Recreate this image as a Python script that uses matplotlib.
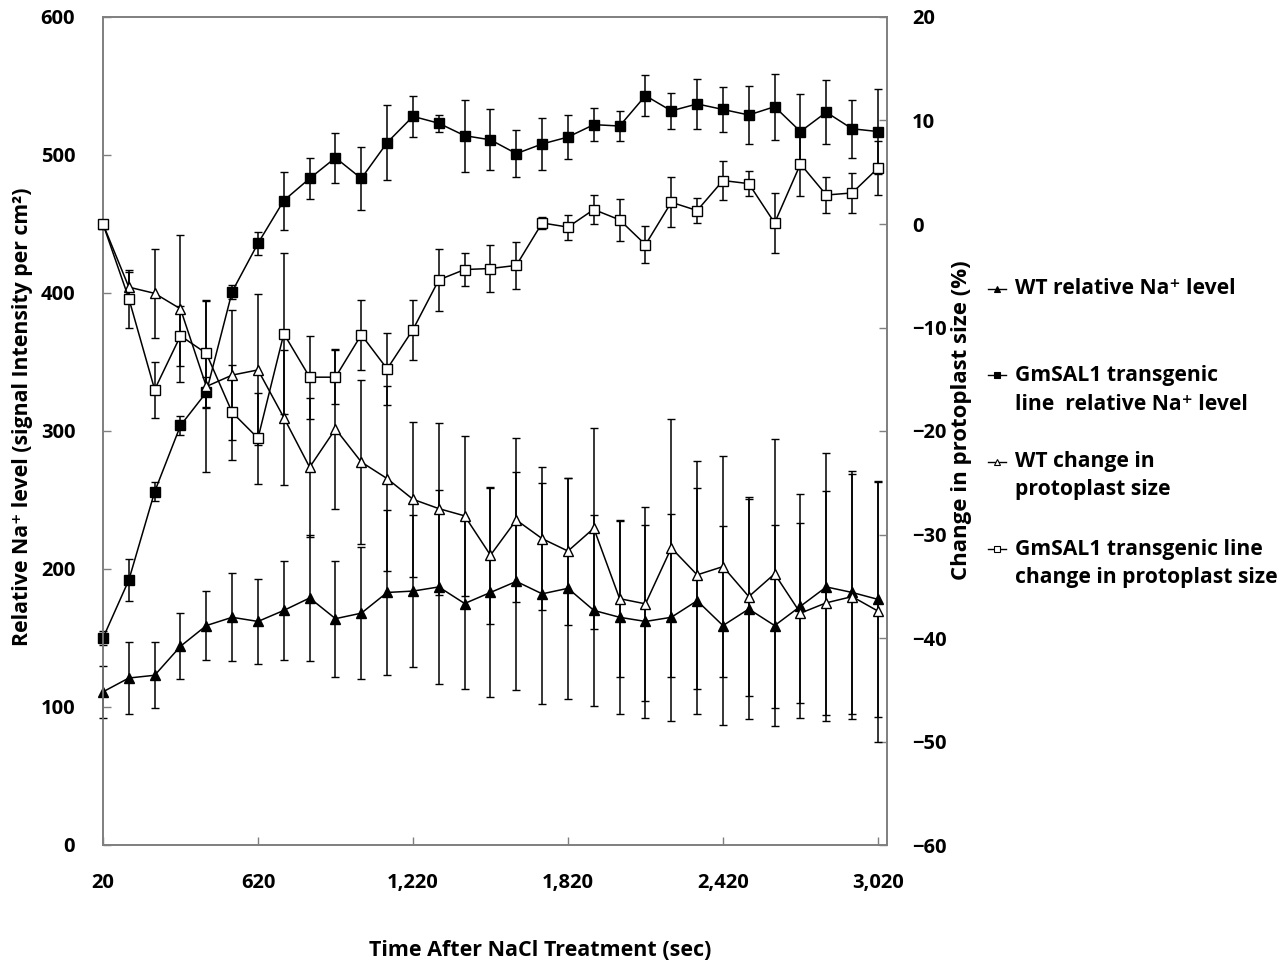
import matplotlib
matplotlib.use('Agg')
import matplotlib.pyplot as plt
from matplotlib.lines import Line2D
from matplotlib.ticker import FixedLocator, FuncFormatter

# ---------------- data ----------------
time_sec = [20, 120, 220, 320, 420, 520, 620, 720, 820, 920, 1020, 1120, 1220, 1320,
            1420, 1520, 1620, 1720, 1820, 1920, 2020, 2120, 2220, 2320, 2420, 2520,
            2620, 2720, 2820, 2920, 3020]

wt_na = [111, 121, 123, 144, 159, 165, 162, 170, 179, 164, 168, 183, 184, 187, 175, 183,
         191, 182, 186, 170, 165, 162, 165, 177, 159, 171, 159, 173, 187, 183, 178]
wt_na_err = [19, 26, 24, 24, 25, 32, 31, 36, 46, 42, 48, 60, 55, 70, 62, 76,
             79, 80, 80, 69, 70, 70, 75, 82, 72, 80, 73, 81, 97, 88, 85]

gm_na = [150, 192, 256, 304, 328, 401, 436, 467, 483, 498, 483, 509, 528, 523, 514, 511,
         501, 508, 513, 522, 521, 543, 532, 537, 533, 529, 535, 517, 531, 519, 517]
gm_na_err = [5, 15, 7, 7, 11, 5, 8.5, 21, 15, 18, 23, 27, 15, 6, 26, 22,
             17, 19, 16, 12, 11, 15, 13, 18, 16, 21, 24, 27, 23, 21, 31]

wt_chg = [0, -6.1, -6.7, -8.2, -15.7, -14.6, -14.1, -18.7, -23.5, -19.8, -23.0, -24.6,
          -26.6, -27.5, -28.2, -32.0, -28.6, -30.4, -31.6, -29.4, -36.2, -36.7, -31.3,
          -33.9, -33.1, -36.0, -33.8, -37.6, -36.6, -36.0, -37.4]
wt_chg_err = [0, 1.5, 4.3, 7.1, 8.3, 6.3, 7.3, 6.5, 6.7, 7.7, 7.9, 8.9, 7.5, 8.3, 7.7, 6.6,
              7.9, 6.9, 7.1, 9.7, 7.6, 9.4, 12.5, 11.0, 10.7, 9.6, 13.0, 8.7, 10.8, 11.8, 12.6]

gm_chg = [0, -7.2, -16.0, -10.8, -12.5, -18.2, -20.7, -10.6, -14.8, -14.8, -10.7, -14.0,
          -10.2, -5.4, -4.4, -4.3, -4.0, 0.1, -0.3, 1.4, 0.4, -2.0, 2.1, 1.3, 4.2, 3.9,
          0.1, 5.8, 2.8, 3.0, 5.4]
gm_chg_err = [0, 2.8, 2.7, 2.9, 5.2, 4.6, 4.4, 7.8, 4.0, 2.6, 3.4, 3.5, 2.9, 3.0, 1.6, 2.3,
              2.3, 0.6, 1.2, 1.4, 2.0, 1.8, 2.4, 1.2, 1.9, 1.2, 2.9, 3.1, 1.7, 1.9, 2.6]

x_ticks = [20, 620, 1220, 1820, 2420, 3020]
left_ticks = [0, 100, 200, 300, 400, 500, 600]
right_ticks = [-60, -50, -40, -30, -20, -10, 0, 10, 20]

legend_lines = [
    ["WT relative Na\u207a level"],
    ["GmSAL1 transgenic", "line  relative Na\u207a level"],
    ["WT change in", "protoplast size"],
    ["GmSAL1 transgenic line", "change in protoplast size"],
]

# ---------------- style ----------------
FAM = ['Open Sans', 'DejaVu Sans']
plt.rcParams['font.family'] = FAM
plt.rcParams['font.weight'] = 'bold'

W, H = 1287, 965
fig = plt.figure(figsize=(W / 100, H / 100), dpi=100)
L, R, T, B = 103, 887, 17, 845
ax = fig.add_axes([L / W, 1 - B / H, (R - L) / W, (B - T) / H])
ax2 = ax.twinx()

spine_col = '#7f7f7f'
for a in (ax, ax2):
    for s in a.spines.values():
        s.set_color(spine_col)
        s.set_linewidth(1.2)

ax.set_xlim(20, 3055)
ax.set_ylim(0, 600)
ax2.set_ylim(-60, 20)

lw = 1.1
common = dict(color='black', linewidth=lw, elinewidth=lw, capsize=3, capthick=lw,
              markersize=7.5, markeredgewidth=1.0, clip_on=False)

ax.errorbar(time_sec, wt_na, yerr=wt_na_err, marker='^', markerfacecolor='black',
            markeredgecolor='black', zorder=3, **common)
ax.errorbar(time_sec, gm_na, yerr=gm_na_err, marker='s', markerfacecolor='black',
            markeredgecolor='black', zorder=3, **common)
ax2.errorbar(time_sec, wt_chg, yerr=wt_chg_err, marker='^', markerfacecolor='white',
             markeredgecolor='black', zorder=3, **common)
ax2.errorbar(time_sec, gm_chg, yerr=gm_chg_err, marker='s', markerfacecolor='white',
             markeredgecolor='black', zorder=3, **common)

tick_fs = 14.5
ax.xaxis.set_major_locator(FixedLocator(x_ticks))
ax.xaxis.set_major_formatter(FuncFormatter(lambda v, p: f"{int(v):,}"))
ax.yaxis.set_major_locator(FixedLocator(left_ticks))
ax2.yaxis.set_major_locator(FixedLocator(right_ticks))
ax.tick_params(axis='x', direction='in', length=6, width=1, color=spine_col,
               pad=20, labelsize=tick_fs)
ax.tick_params(axis='y', direction='in', length=6, width=1, color=spine_col,
               pad=20, labelsize=tick_fs)
ax2.tick_params(axis='y', direction='in', length=6, width=1, color=spine_col,
                pad=18, labelsize=tick_fs)

fig.text(540 / W, 1 - 950 / H, "Time After NaCl Treatment (sec)", ha='center',
         va='center', fontsize=15.5, fontweight='bold', family=FAM)
fig.text(23 / W, 1 - 417 / H, "Relative Na\u207a level (signal Intensity per cm\u00b2)",
         rotation=90, ha='center', va='center', fontsize=15.3, fontweight='bold',
         family=FAM)
fig.text(962 / W, 1 - 420 / H, "Change in protoplast size (%)", rotation=90,
         ha='center', va='center', fontsize=16, fontweight='bold', family=FAM)

# ---------------- legend ----------------
leg_fs = 15.2
handle_specs = [('^', 'black'), ('s', 'black'), ('^', 'white'), ('s', 'white')]
entry_y = [[289], [375, 404], [462, 490], [549, 578]]
for (mk, fc), lines, ys in zip(handle_specs, legend_lines, entry_y):
    y0 = 1 - ys[0] / H
    fig.add_artist(Line2D([988 / W, 1006 / W], [y0, y0], color='black', linewidth=1.0,
                          transform=fig.transFigure))
    fig.add_artist(Line2D([997 / W], [y0], marker=mk, markersize=4.5,
                          markerfacecolor=fc, markeredgecolor='black',
                          markeredgewidth=0.8, linestyle='none',
                          transform=fig.transFigure))
    for txt, yy in zip(lines, ys):
        fig.text(1015 / W, 1 - yy / H, txt, ha='left', va='center', fontsize=leg_fs,
                 fontweight='bold', family=FAM)

fig.savefig('out.png', dpi=100, facecolor='white')
